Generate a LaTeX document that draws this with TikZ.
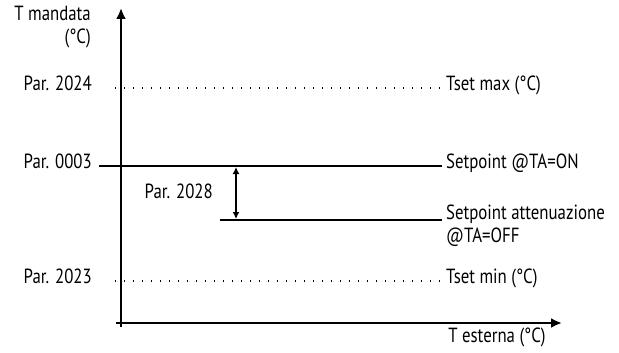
\documentclass[tikz,border=0pt]{standalone}
\usepackage{fontspec}
\setmainfont{PT Sans}[FakeStretch=0.82]
\usepackage{tikz}
\usetikzlibrary{arrows.meta, positioning}

\begin{document}
\begin{tikzpicture}[x=1pt, y=-1pt, font=\fontsize{20.5}{22.5}\selectfont,
    lbl/.style={inner sep=0pt, text height=0.72em, text depth=0.22em},
    axis/.style={line width=2.8pt, -{Latex[length=11pt, width=10pt]}},
    dotline/.style={line width=1.3pt, dash pattern=on 1.3pt off 7.7pt},
    setline/.style={line width=1.3pt},
    gap/.style={<->, >={Latex[length=7pt, width=7pt]}, line width=1.4pt}]
    \useasboundingbox (0,0) rectangle (619,353);

    % Assi
    \coordinate (ybot) at (121,327);
    \coordinate (ytop) at (121,8);
    \coordinate (xbeg) at (116,323);
    \coordinate (xend) at (562,323);
    \draw[axis] (ybot) -- (ytop);
    \draw[axis] (xbeg) -- (xend);
    \node[inner sep=0pt, align=right, anchor=north east] (tmand) at (91,6) {T mandata\\(°C)};
    \node[lbl] (test) at (497,340) {T esterna (°C)};

    % Tset max
    \node[lbl, anchor=east] (p2024) at (92,88) {Par. 2024};
    \node[lbl, anchor=west] (tmax) at (446,88) {Tset max (°C)};
    \draw[dotline] ([xshift=23pt]p2024.east) -- ([xshift=-4pt]tmax.west);

    % Setpoint
    \node[lbl, anchor=east] (p0003) at (92,166) {Par. 0003};
    \node[lbl, anchor=west] (spon) at (446,166) {Setpoint @TA=ON};
    \draw[setline] ([xshift=7pt]p0003.east) -- ([xshift=-4pt]spon.west);

    % Attenuazione
    \coordinate (att0) at (220,220);
    \node[inner sep=0pt, align=left, anchor=north west] (spoff) at (446,205)
        {Setpoint attenuazione\\@TA=OFF};
    \draw[setline] (att0) -- ([xshift=-4pt]att0 -| spoff.west);
    \coordinate (dtop) at (236,167);
    \coordinate (dbot) at (236,219);
    \draw[gap] (dtop) -- (dbot);
    \node[lbl, anchor=east] (p2028) at (213,196) {Par. 2028};

    % Tset min
    \node[lbl, anchor=east] (p2023) at (92,281) {Par. 2023};
    \node[lbl, anchor=west] (tmin) at (446,281) {Tset min (°C)};
    \draw[dotline] ([xshift=23pt]p2023.east) -- ([xshift=-4pt]tmin.west);
\end{tikzpicture}
\end{document}
